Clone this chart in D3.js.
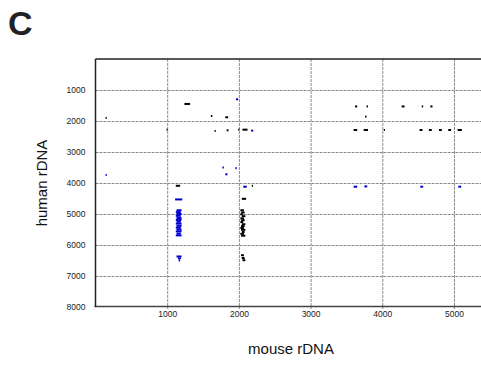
<!DOCTYPE html>
<html>
<head>
<meta charset="utf-8">
<script src="https://cdn.jsdelivr.net/npm/d3@7"></script>
<style>
  body { margin: 0; background: #fff; }
  svg { display: block; font-family: "Liberation Sans", Arial, sans-serif; }
</style>
</head>
<body>
<div id="chart"></div>
<script>
// tick values
const xTicks = [1000, 2000, 3000, 4000, 5000];
const yTicks = [1000, 2000, 3000, 4000, 5000, 6000, 7000, 8000];

// alignment hits: [mouse start, mouse end, human position]
const blackHits = [
  [140, 150, 1900],
  [1240, 1320, 1450],
  [1610, 1630, 1840],
  [1810, 1850, 1880],
  [990, 992, 2280],
  [1660, 1675, 2320],
  [1830, 1855, 2300],
  [1990, 2000, 2280],
  [2050, 2120, 2280],
  [1120, 1180, 4090],
  [2180, 2195, 4090],
  [2040, 2100, 4510],
  [2020, 2070, 4880],
  [2030, 2080, 4950],
  [2020, 2060, 5010],
  [2040, 2090, 5070],
  [2020, 2070, 5140],
  [2030, 2080, 5200],
  [2020, 2060, 5260],
  [2040, 2090, 5330],
  [2030, 2080, 5390],
  [2020, 2070, 5450],
  [2030, 2090, 5510],
  [2040, 2080, 5580],
  [2020, 2070, 5640],
  [2030, 2090, 5700],
  [2030, 2070, 6330],
  [2040, 2080, 6420],
  [2050, 2090, 6490],
  [3620, 3650, 1530],
  [3780, 3800, 1530],
  [3760, 3780, 1860],
  [4270, 4310, 1530],
  [4550, 4570, 1530],
  [4670, 4700, 1530],
  [3600, 3650, 2290],
  [3740, 3800, 2290],
  [4020, 4022, 2290],
  [4520, 4560, 2290],
  [4650, 4690, 2290],
  [4790, 4830, 2290],
  [4920, 4960, 2290],
  [5050, 5110, 2290]
];

const blueHits = [
  [1960, 1990, 1300],
  [2170, 2200, 2310],
  [140, 150, 3740],
  [1770, 1790, 3500],
  [1950, 1970, 3520],
  [1810, 1840, 3720],
  [2060, 2110, 4120],
  [1110, 1210, 4530],
  [1130, 1200, 4880],
  [1120, 1190, 4940],
  [1130, 1200, 5000],
  [1120, 1190, 5060],
  [1130, 1200, 5130],
  [1120, 1200, 5190],
  [1130, 1190, 5250],
  [1120, 1200, 5310],
  [1130, 1200, 5380],
  [1120, 1190, 5440],
  [1130, 1200, 5500],
  [1120, 1200, 5560],
  [1130, 1190, 5630],
  [1120, 1200, 5690],
  [1130, 1200, 6370],
  [1150, 1190, 6430],
  [1160, 1180, 6500],
  [3600, 3650, 4120],
  [3750, 3790, 4110],
  [4530, 4570, 4120],
  [5060, 5100, 4120]
];

const width = 481, height = 367;
const margin = { top: 59, left: 95.5, bottom: 307 };

const svg = d3.select('#chart').append('svg')
  .attr('width', width)
  .attr('height', height);

const x = d3.scaleLinear().domain([0, 5400]).range([margin.left, margin.left + 5400 * 0.0717]);
const y = d3.scaleLinear().domain([0, 8000]).range([margin.top, margin.bottom]);

// gridlines
svg.append('g')
  .attr('transform', `translate(0,${margin.top})`)
  .call(d3.axisBottom(x).tickValues(xTicks).tickSize(margin.bottom - margin.top + 2).tickFormat(''))
  .call(g => g.select('.domain').remove())
  .call(g => g.selectAll('line').attr('stroke', '#8a8a8a').attr('stroke-dasharray', '3,1'));

svg.append('g')
  .attr('transform', `translate(${margin.left},0)`)
  .call(d3.axisRight(y).tickValues(yTicks.slice(0, -1)).tickSize(width - margin.left).tickFormat(''))
  .call(g => g.select('.domain').remove())
  .call(g => g.selectAll('line').attr('stroke', '#8a8a8a').attr('stroke-dasharray', '3,1'));

// frame lines
svg.append('line').attr('x1', margin.left).attr('x2', width)
  .attr('y1', margin.top).attr('y2', margin.top)
  .attr('stroke', '#222').attr('stroke-width', 1.5);
svg.append('line').attr('x1', margin.left - 1).attr('x2', width)
  .attr('y1', margin.bottom - 0.5).attr('y2', margin.bottom - 0.5)
  .attr('stroke', '#444').attr('stroke-width', 1.5);
svg.append('line').attr('x1', margin.left).attr('x2', margin.left)
  .attr('y1', margin.top).attr('y2', margin.bottom)
  .attr('stroke', '#222').attr('stroke-width', 1.5);

// axes labels
svg.append('g')
  .attr('transform', `translate(${margin.left},0)`)
  .call(d3.axisLeft(y).tickValues(yTicks).tickSize(0).tickPadding(10).tickFormat(d3.format('d')))
  .call(g => g.select('.domain').remove())
  .call(g => g.selectAll('text').attr('font-size', 8.5).attr('fill', '#222')
    .attr('font-family', '"Liberation Sans", Arial, sans-serif'));

svg.append('g')
  .attr('transform', `translate(0,${margin.bottom - 1})`)
  .call(d3.axisBottom(x).tickValues(xTicks).tickSize(0).tickPadding(5).tickFormat(d3.format('d')))
  .call(g => g.select('.domain').remove())
  .call(g => g.selectAll('text').attr('font-size', 8.5).attr('fill', '#222')
    .attr('font-family', '"Liberation Sans", Arial, sans-serif'));

// hits
function drawHits(data, color) {
  svg.append('g').selectAll('rect')
    .data(data)
    .enter().append('rect')
    .attr('x', d => x(d[0]))
    .attr('y', d => y(d[2]) - 1)
    .attr('width', d => Math.max(1.2, x(d[1]) - x(d[0])))
    .attr('height', 2)
    .attr('fill', color);
}
drawHits(blackHits, '#000');
drawHits(blueHits, '#0000cc');

// titles
svg.append('text')
  .attr('x', 291).attr('y', 354)
  .attr('text-anchor', 'middle')
  .attr('font-size', 15)
  .attr('fill', '#111')
  .text('mouse rDNA');

svg.append('text')
  .attr('transform', 'translate(47,183) rotate(-90)')
  .attr('text-anchor', 'middle')
  .attr('font-size', 15)
  .attr('fill', '#111')
  .text('human rDNA');

svg.append('text')
  .attr('x', 8).attr('y', 35)
  .attr('font-size', 34)
  .attr('font-weight', 'bold')
  .attr('fill', '#222')
  .text('C');
</script>
</body>
</html>
